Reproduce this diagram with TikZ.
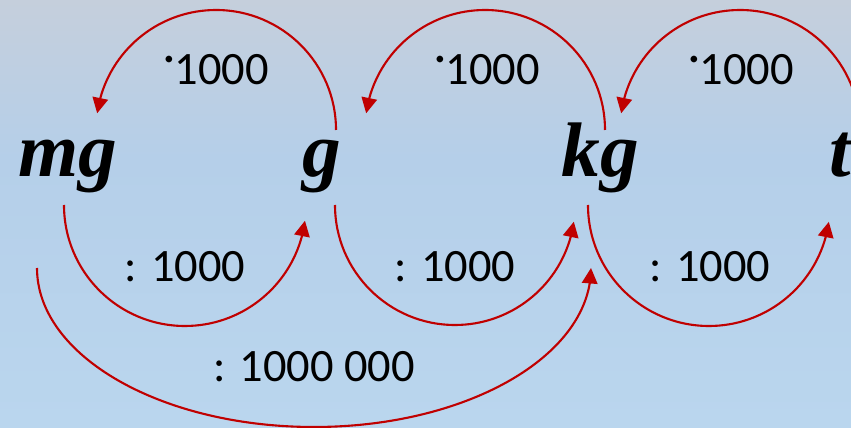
\documentclass[tikz,border=0pt]{standalone}
\usepackage{fontspec}
\setmainfont{Liberation Serif}
\newfontfamily\labelfont{Carlito}
\usetikzlibrary{arrows.meta,bending}
\definecolor{arcred}{RGB}{192,0,0}
\definecolor{bgtop}{RGB}{197,207,220}
\definecolor{bgmid}{RGB}{181,207,233}
\definecolor{bgbot}{RGB}{186,214,238}

\begin{document}
\begin{tikzpicture}[x=0.025cm, y=0.025cm,
    unit/.style = {anchor=base, inner sep=0pt, font=\fontsize{55}{55}\selectfont\bfseries\itshape},
    lbl/.style = {anchor=base, inner sep=0pt, font=\fontsize{33}{33}\selectfont\labelfont},
    arrow/.style = {draw=arcred, line width=1.5pt, -{Triangle[length=11pt,width=11pt]}}
]
    \useasboundingbox (0,0) rectangle (851,428);
    \clip (0,0) rectangle (851,428);
    % background
    \shade[top color=bgtop, bottom color=bgmid] (0,270) rectangle (851,428);
    \shade[top color=bgmid, bottom color=bgbot] (0,0) rectangle (851,270.5);

    \node[unit] (mg) at (68,251) {mg};
    \node[unit] (g) at (322,251) {g};
    \node[unit] (kg) at (600,251) {kg};
    \node[unit, anchor=base west] (t) at (829,251) {t};

    \coordinate (g-up) at (336,298);
    \coordinate (kg-up) at (605,298);
    \coordinate (t-up) at (860,298);
    \coordinate (mg-down) at (64,223);
    \coordinate (g-down) at (335,223);
    \coordinate (kg-down) at (588,223);
    \coordinate (mg-far) at (37,160);

    \node[lbl] (m1) at (216,343) {\raisebox{0.28em}{·}1000};
    \node[lbl] (m2) at (487,343) {\raisebox{0.28em}{·}1000};
    \node[lbl] (m3) at (741,343) {\raisebox{0.28em}{·}1000};
    \node[lbl] (d1) at (185,146) {: 1000};
    \node[lbl] (d2) at (455,146) {: 1000};
    \node[lbl] (d3) at (710,146) {: 1000};
    \node[lbl] (d4) at (314,46) {: 1000 000};

    \path[arrow] (g-up) arc[start angle=0, end angle=172, radius=120];
    \path[arrow] (kg-up) arc[start angle=0, end angle=172, radius=120];
    \path[arrow] (t-up) arc[start angle=0, end angle=172, radius=120];
    \path[arrow] (mg-down) arc[start angle=180, end angle=352.5, radius=121];
    \path[arrow] (g-down) arc[start angle=180, end angle=352, radius=120];
    \path[arrow] (kg-down) arc[start angle=180, end angle=352, radius=121];
    \path[arrow] (mg-far) arc[start angle=180, end angle=360, x radius=277, y radius=159];
\end{tikzpicture}
\end{document}
